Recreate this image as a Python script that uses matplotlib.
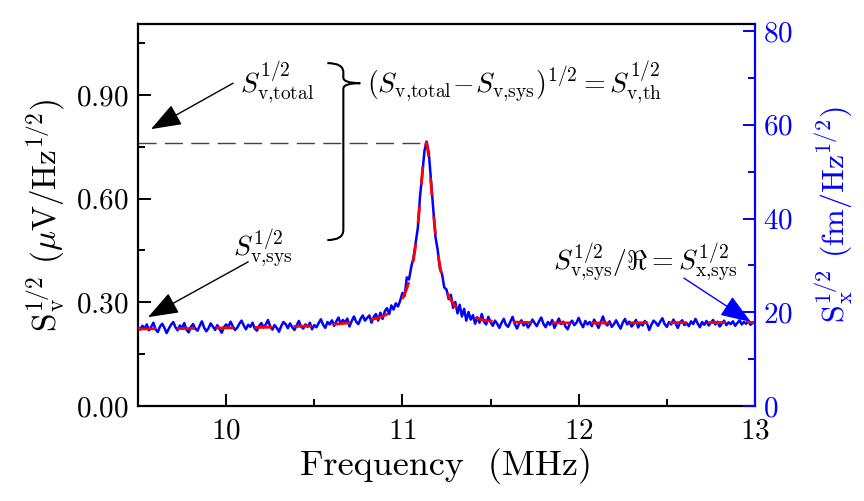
import numpy as np
import matplotlib
matplotlib.use("Agg")
import matplotlib.pyplot as plt
from matplotlib.path import Path
from matplotlib.patches import PathPatch

plt.rcParams['mathtext.fontset'] = 'cm'
plt.rcParams['font.family'] = 'serif'
plt.rcParams['font.serif'] = ['cmr10', 'DejaVu Serif']
plt.rcParams['axes.formatter.use_mathtext'] = True

# ---- data ----
# measured spectrum, uniform grid 9.5 .. 13.0 MHz
blue_v = [
    # 9.5 - 10.0
    0.228, 0.221, 0.232, 0.224, 0.236, 0.219, 0.229, 0.241, 0.222, 0.214,
    0.230, 0.238, 0.226, 0.211, 0.224, 0.235, 0.243, 0.228, 0.219, 0.233,
    0.226, 0.240, 0.221, 0.213, 0.229, 0.237, 0.224, 0.218, 0.232, 0.245,
    0.227, 0.216, 0.225, 0.239, 0.230, 0.220, 0.234, 0.223, 0.212, 0.228,
    0.236,
    # 10.0 - 10.5
    0.229, 0.244, 0.231, 0.220, 0.226, 0.238, 0.247, 0.233, 0.222, 0.235,
    0.229, 0.241, 0.224, 0.218, 0.232, 0.240, 0.227, 0.236, 0.249, 0.230,
    0.221, 0.234, 0.226, 0.215, 0.231, 0.243, 0.237, 0.225, 0.239, 0.228,
    0.220, 0.233, 0.246, 0.230, 0.224, 0.236, 0.229, 0.241, 0.222, 0.234,
    # 10.5 - 10.8
    0.228, 0.240, 0.251, 0.235, 0.226, 0.243, 0.236, 0.248, 0.232, 0.245,
    0.256, 0.238, 0.249, 0.241, 0.253, 0.230, 0.246, 0.259, 0.244, 0.237,
    0.252, 0.262, 0.247, 0.255,
    # 10.8 - 11.5 (resonance)
    0.262, 0.241, 0.258, 0.266, 0.247, 0.270, 0.252, 0.274, 0.283, 0.266,
    0.291, 0.279, 0.297, 0.288, 0.305, 0.327, 0.318, 0.372, 0.366, 0.402,
    0.428, 0.471, 0.515, 0.607, 0.668, 0.738, 0.765, 0.731, 0.650, 0.572,
    0.489, 0.452, 0.398, 0.381, 0.343, 0.337, 0.309, 0.322, 0.284, 0.301,
    0.268, 0.293, 0.259, 0.281, 0.247, 0.272, 0.250, 0.263, 0.238, 0.257,
    0.241, 0.266, 0.244, 0.236, 0.258, 0.243,
    # 11.5 - 13.0
    0.232, 0.247, 0.238, 0.226, 0.241, 0.252, 0.235, 0.229, 0.244, 0.258,
    0.237, 0.224, 0.239, 0.248, 0.233, 0.242, 0.227, 0.236, 0.250, 0.240,
    0.231, 0.245, 0.256, 0.238, 0.228, 0.243, 0.235, 0.249, 0.226, 0.240,
    0.253, 0.237, 0.244, 0.230, 0.222, 0.238, 0.247, 0.234, 0.241, 0.255,
    0.239, 0.228, 0.246, 0.236, 0.243, 0.231, 0.250, 0.238, 0.226, 0.242,
    0.259, 0.240, 0.233, 0.245, 0.229, 0.237, 0.248, 0.235, 0.224, 0.241,
    0.252, 0.236, 0.244, 0.230, 0.238, 0.249, 0.227, 0.240, 0.233, 0.246,
    0.239, 0.220, 0.235, 0.247, 0.241, 0.232, 0.244, 0.254, 0.237, 0.229,
    0.243, 0.236, 0.250, 0.238, 0.226, 0.242, 0.248, 0.234, 0.240, 0.231,
    0.245, 0.237, 0.252, 0.239, 0.228, 0.243, 0.235, 0.246, 0.233, 0.241,
    0.249, 0.236, 0.244, 0.230, 0.239, 0.247, 0.234, 0.242, 0.237, 0.245,
    0.232, 0.240, 0.248, 0.236, 0.243, 0.238, 0.246, 0.235, 0.241, 0.239,
]
blue_f = np.linspace(9.5, 13.0, len(blue_v))

# fitted curve
fit_f = [9.50, 9.75, 10.00, 10.25, 10.50, 10.65, 10.75,
         10.8125, 10.825, 10.8375, 10.85, 10.8625, 10.875, 10.8875, 10.90,
         10.9125, 10.925, 10.9375, 10.95, 10.9625, 10.975, 10.9875, 11.00,
         11.0125, 11.025, 11.0375, 11.05, 11.0625, 11.075, 11.0875, 11.10,
         11.1125, 11.125, 11.135, 11.1375, 11.15, 11.1625, 11.175, 11.1875,
         11.20, 11.2125, 11.225, 11.2375, 11.25, 11.2625, 11.275, 11.2875,
         11.30, 11.3125, 11.325, 11.3375, 11.35, 11.3625, 11.375, 11.3875,
         11.40, 11.4125, 11.425, 11.4375, 11.45, 11.4625, 11.475, 11.4875,
         11.50, 11.60, 11.75, 12.00, 12.50, 13.00]
fit_v = [0.223, 0.224, 0.226, 0.228, 0.232, 0.238, 0.244,
         0.249, 0.2503, 0.2517, 0.2533, 0.2552, 0.2573, 0.2596, 0.2624,
         0.2656, 0.269, 0.2734, 0.2785, 0.2844, 0.2915, 0.300, 0.3106,
         0.3237, 0.340, 0.3604, 0.3866, 0.4207, 0.465, 0.522, 0.5936,
         0.674, 0.742, 0.762, 0.761, 0.718, 0.642, 0.5635, 0.4976,
         0.4459, 0.406, 0.3755, 0.3517, 0.333, 0.318, 0.306, 0.2966,
         0.2886, 0.282, 0.2764, 0.2717, 0.2677, 0.2643, 0.2612, 0.2587,
         0.2564, 0.2544, 0.2527, 0.251, 0.2498, 0.2485, 0.2475, 0.2465,
         0.2457, 0.2435, 0.241, 0.240, 0.241, 0.242]

peak_f = 11.135
peak_v = 0.762

x_ticks = [10, 11, 12, 13]
x_labels = ['$10$', '$11$', '$12$', '$13$']
yl_ticks = [0.0, 0.3, 0.6, 0.9]
yl_labels = ['$0.00$', '$0.30$', '$0.60$', '$0.90$']
yr_ticks = [0, 20, 40, 60, 80]
yr_labels = ['$0$', '$20$', '$40$', '$60$', '$80$']

BLUE = '#0000ff'

fig = plt.figure(figsize=(8.64, 5.01), dpi=100)
ax = fig.add_axes([0.1597, 0.1896, 0.7141, 0.7624])
ax2 = ax.twinx()

ax.plot(blue_f, blue_v, color=BLUE, lw=1.8, zorder=3)
ax.plot(fit_f, fit_v, color='red', lw=2.0, dashes=(6.5, 7.5), zorder=4)
ax.plot([9.5, peak_f], [peak_v, peak_v], color='#444444', lw=1.0,
        dashes=(13, 6), zorder=2)

ax.set_xlim(9.5, 13.0)
ax.set_ylim(0, 1.105)
ax2.set_ylim(0, 81.5)

ax.set_xticks(x_ticks, labels=x_labels)
ax.set_xticks(np.arange(9.5, 13.01, 0.5), minor=True)
ax.set_yticks(yl_ticks, labels=yl_labels)
ax.set_yticks([0.15, 0.45, 0.75, 1.05], minor=True)
ax2.set_yticks(yr_ticks, labels=yr_labels)
ax2.set_yticks([10, 30, 50, 70], minor=True)

for a in (ax, ax2):
    for s in a.spines.values():
        s.set_linewidth(1.6)
ax.spines['right'].set_visible(False)
ax2.spines['right'].set_color(BLUE)
ax2.spines['left'].set_visible(False)
ax2.spines['top'].set_visible(False)
ax2.spines['bottom'].set_visible(False)

ax.tick_params(axis='both', which='both', direction='in', width=1.4,
               labelsize=21, top=False, right=False)
ax.tick_params(which='major', length=9)
ax.tick_params(which='minor', length=5)
ax.tick_params(axis='x', pad=9)
ax.tick_params(axis='y', pad=7)
ax2.tick_params(axis='y', which='both', direction='in', width=1.4,
                colors=BLUE, labelsize=21, pad=6)
ax2.tick_params(which='major', length=9)
ax2.tick_params(which='minor', length=5)

ax.set_xlabel(r'Frequency  (MHz)', fontsize=26, labelpad=2)
ax.set_ylabel(r'$\mathrm{S_v^{1/2}}$ $(\mu\mathrm{V/Hz^{1/2}})$', fontsize=24,
              labelpad=6)
ax2.set_ylabel(r'$\mathrm{S_x^{1/2}}$ $(\mathrm{fm/Hz^{1/2}})$', fontsize=23,
               color=BLUE, labelpad=14)

# annotations
fs = 20
arrow_k = dict(arrowstyle='-|>,head_length=0.95,head_width=0.35', lw=1.0,
               mutation_scale=20, shrinkA=0, shrinkB=0)
ax.text(10.29, 0.934, r'$S_{\mathrm{v{,}total}}^{1/2}$', fontsize=fs,
        ha='center', va='center')
ax.annotate('', xy=(9.574, 0.801), xytext=(10.04, 0.934),
            arrowprops=dict(color='black', **arrow_k))
ax.text(10.21, 0.455, r'$S_{\mathrm{v{,}sys}}^{1/2}$', fontsize=fs,
        ha='center', va='center')
ax.annotate('', xy=(9.557, 0.257), xytext=(10.125, 0.417),
            arrowprops=dict(color='black', **arrow_k))
ax.text(10.80, 0.934,
        r'$(S_{\mathrm{v{,}total}}\!-\!S_{\mathrm{v{,}sys}})^{1/2} = S_{\mathrm{v{,}th}}^{1/2}$',
        fontsize=fs, ha='left', va='center')
ax.text(12.90, 0.414,
        r'$S_{\mathrm{v{,}sys}}^{1/2}/\Re = S_{\mathrm{x{,}sys}}^{1/2}$',
        fontsize=fs, ha='right', va='center')
ax.annotate('', xy=(12.977, 0.243), xytext=(12.597, 0.370),
            arrowprops=dict(color=BLUE, **arrow_k))

# curly brace
bx0, bx1, bx2 = 10.574, 10.665, 10.761
verts = [(bx0, 0.992), (bx1, 0.992), (bx1, 0.965),
         (bx1, 0.950),
         (bx1, 0.934), (bx2, 0.934),
         (bx1, 0.934), (bx1, 0.918),
         (bx1, 0.51),
         (bx1, 0.48), (bx0, 0.48)]
codes = [Path.MOVETO, Path.CURVE3, Path.CURVE3,
         Path.LINETO,
         Path.CURVE3, Path.CURVE3,
         Path.CURVE3, Path.CURVE3,
         Path.LINETO,
         Path.CURVE3, Path.CURVE3]
ax.add_patch(PathPatch(Path(verts, codes), fill=False, lw=1.5,
                       color='black', zorder=5))

fig.savefig('out.png', dpi=100)
